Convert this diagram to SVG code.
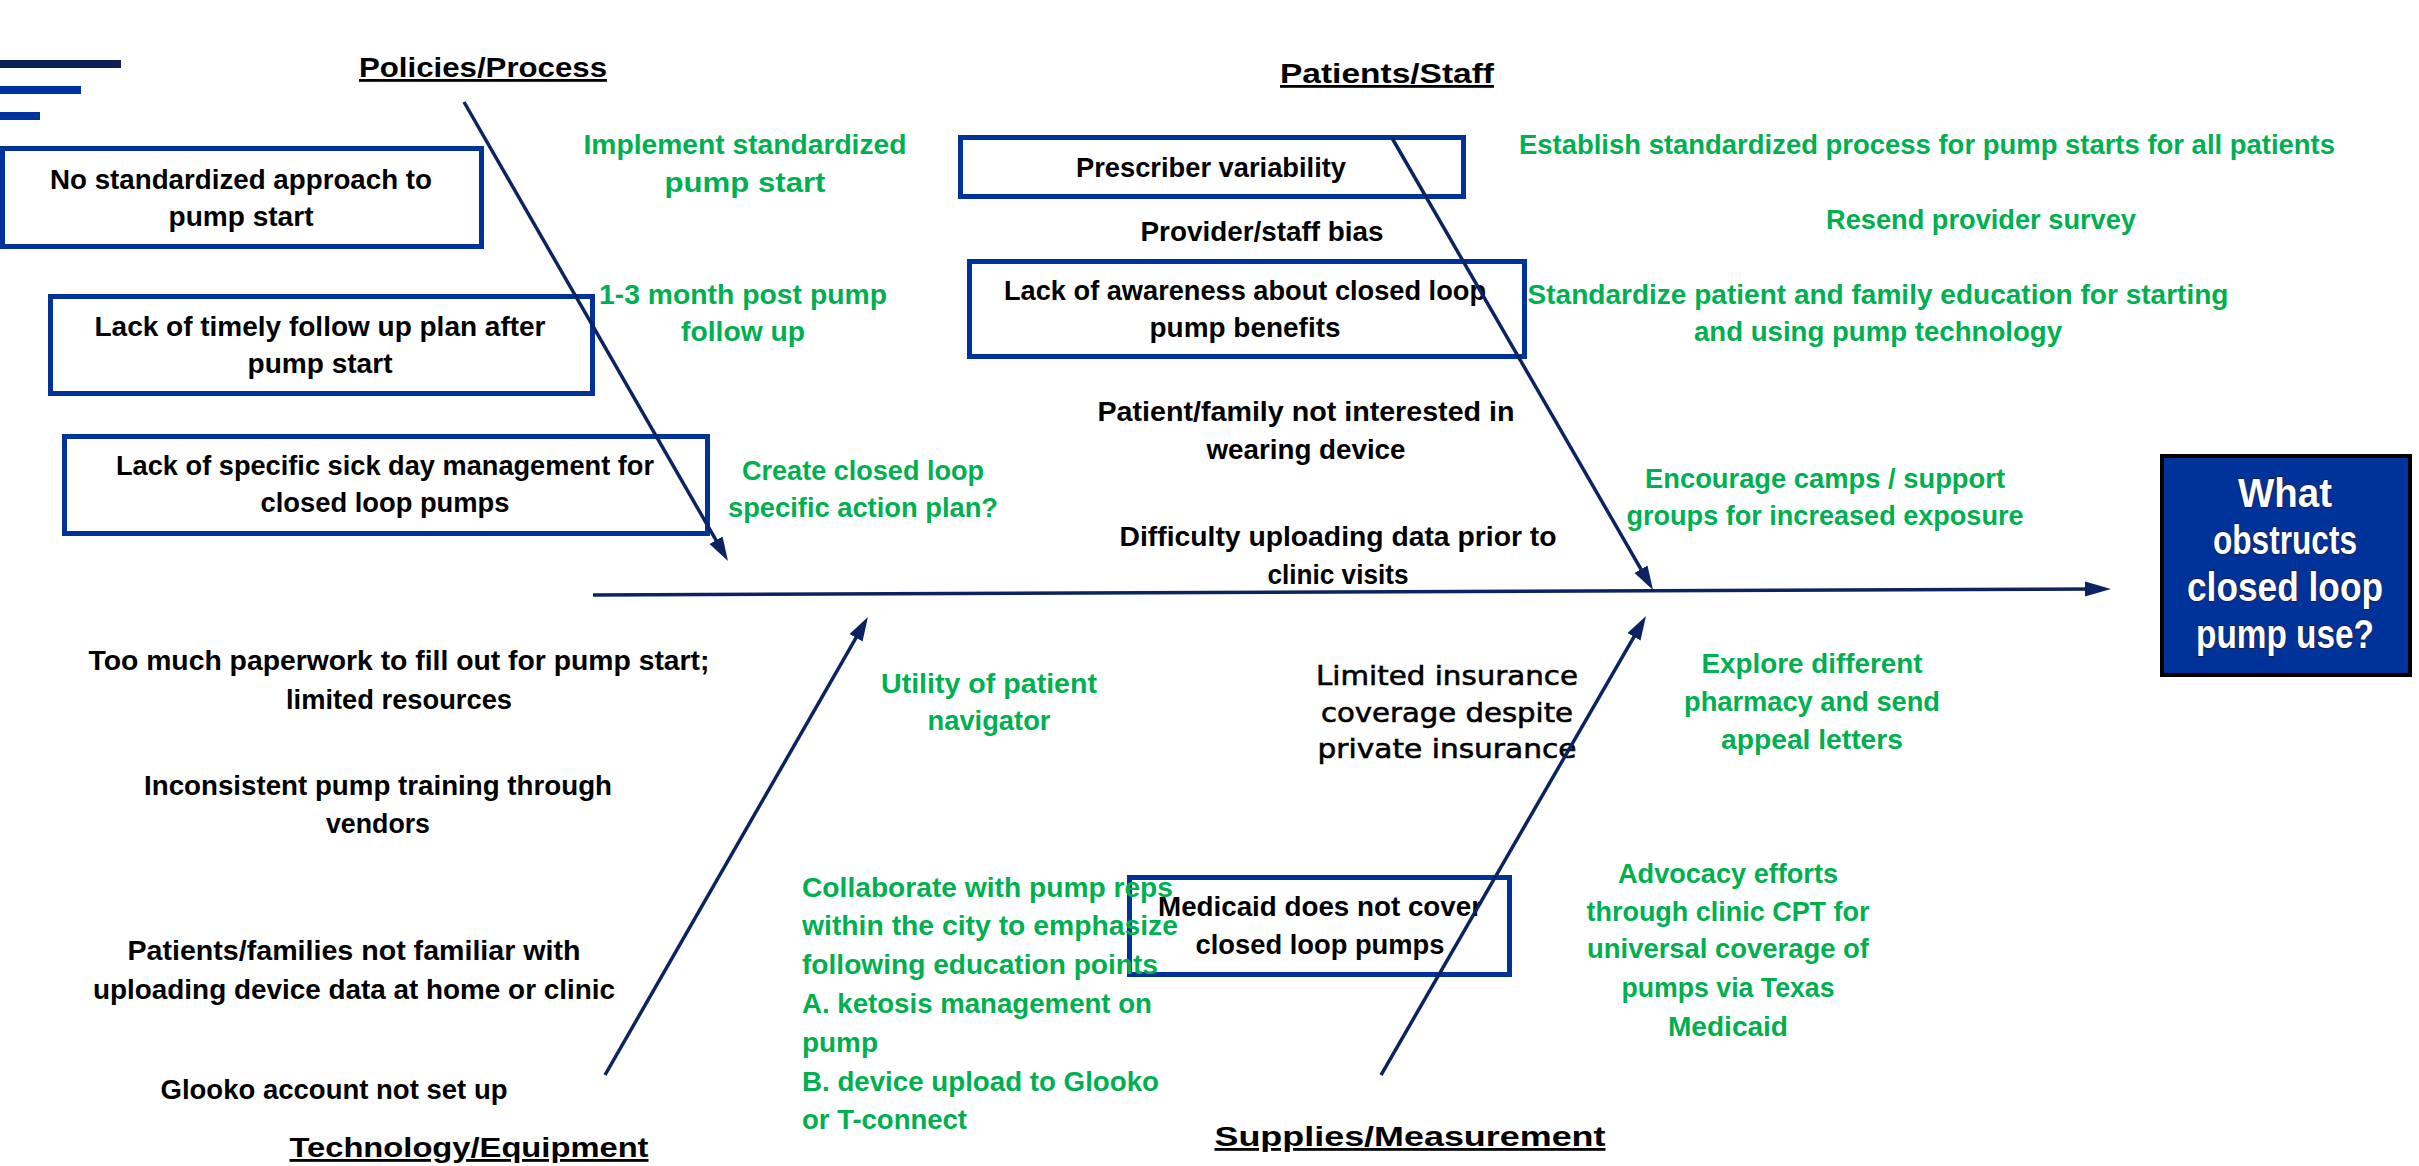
<svg xmlns="http://www.w3.org/2000/svg" width="2419" height="1166" viewBox="0 0 2419 1166">
<style>
text{font-family:"Liberation Sans",Arial,sans-serif;font-weight:bold;font-size:28px;text-anchor:middle;fill:#000}
.g{fill:#00b050}
.l{text-anchor:start}
.box{fill:none;stroke:#003399;stroke-width:5}
.hd{text-decoration:underline}
.ins{font-family:"DejaVu Sans",Verdana,sans-serif;font-weight:normal;font-size:27px;stroke:#000;stroke-width:0.6}
.w{fill:#fff;font-size:40px;stroke:#1a1a40;stroke-width:1.5;paint-order:stroke}
.ln{stroke:#0b2461;stroke-width:3.5;fill:none}
.deco1{stroke:#0d2157;stroke-width:8}
.deco2{stroke:#0033a0;stroke-width:8}
</style>
<defs>
<marker id="ah" markerUnits="userSpaceOnUse" markerWidth="26" markerHeight="16" refX="12" refY="8" orient="auto"><path d="M0,0.5 L24,8 L0,15.5 z" fill="#0b2461"/></marker>
<marker id="ahm" markerUnits="userSpaceOnUse" markerWidth="28" markerHeight="18" refX="14" refY="9" orient="auto"><path d="M0,1.5 L26,9 L0,16.5 z" fill="#0b2461"/></marker>
</defs>
<rect width="2419" height="1166" fill="#fff"/>
<g id="decoration">
<line class="deco1" x1="0" y1="64" x2="121" y2="64"/>
<line class="deco2" x1="0" y1="90" x2="81" y2="90"/>
<line class="deco2" x1="0" y1="116" x2="40" y2="116"/>
</g>
<g id="hdr-policies"><text class="hd" x="483" y="77" font-size="31" textLength="248" lengthAdjust="spacingAndGlyphs">Policies/Process</text></g>
<g id="hdr-patients"><text class="hd" x="1387" y="83" font-size="33" textLength="214" lengthAdjust="spacingAndGlyphs">Patients/Staff</text></g>
<g id="hdr-technology"><text class="hd" x="469" y="1157" font-size="32" textLength="359" lengthAdjust="spacingAndGlyphs">Technology/Equipment</text></g>
<g id="hdr-supplies"><text class="hd" x="1410" y="1146" font-size="35" textLength="391" lengthAdjust="spacingAndGlyphs">Supplies/Measurement</text></g>

<g id="n-no-standard"><rect class="box" x="2.5" y="148.5" width="479" height="98"/>
<text x="241" y="189" textLength="382" lengthAdjust="spacingAndGlyphs">No standardized approach to</text>
<text x="241" y="226" textLength="145" lengthAdjust="spacingAndGlyphs">pump start</text></g>
<g id="n-followup-plan"><rect class="box" x="50.5" y="296.5" width="542" height="97"/>
<text x="320" y="336" textLength="451" lengthAdjust="spacingAndGlyphs">Lack of timely follow up plan after</text>
<text x="320" y="373" textLength="145" lengthAdjust="spacingAndGlyphs">pump start</text></g>
<g id="n-sick-day"><rect class="box" x="64.5" y="436.5" width="643" height="97"/>
<text x="385" y="475" textLength="538" lengthAdjust="spacingAndGlyphs">Lack of specific sick day management for</text>
<text x="385" y="512" textLength="249" lengthAdjust="spacingAndGlyphs">closed loop pumps</text></g>
<g id="n-prescriber"><rect class="box" x="960.5" y="137.5" width="503" height="59"/>
<text x="1211" y="177" textLength="270" lengthAdjust="spacingAndGlyphs">Prescriber variability</text></g>
<g id="n-bias"><text x="1262" y="241" textLength="243" lengthAdjust="spacingAndGlyphs">Provider/staff bias</text></g>
<g id="n-awareness"><rect class="box" x="969.5" y="261.5" width="555" height="95"/>
<text x="1245" y="300" textLength="482" lengthAdjust="spacingAndGlyphs">Lack of awareness about closed loop</text>
<text x="1245" y="337" textLength="191" lengthAdjust="spacingAndGlyphs">pump benefits</text></g>
<g id="n-not-interested"><text x="1306" y="421" textLength="417" lengthAdjust="spacingAndGlyphs">Patient/family not interested in</text>
<text x="1306" y="459" textLength="199" lengthAdjust="spacingAndGlyphs">wearing device</text></g>
<g id="n-uploading"><text x="1338" y="546" textLength="437" lengthAdjust="spacingAndGlyphs">Difficulty uploading data prior to</text>
<text x="1338" y="584" textLength="141" lengthAdjust="spacingAndGlyphs">clinic visits</text></g>
<g id="n-paperwork"><text x="399" y="670" textLength="621" lengthAdjust="spacingAndGlyphs">Too much paperwork to fill out for pump start;</text>
<text x="399" y="709" textLength="226" lengthAdjust="spacingAndGlyphs">limited resources</text></g>
<g id="n-training"><text x="378" y="795" textLength="468" lengthAdjust="spacingAndGlyphs">Inconsistent pump training through</text>
<text x="378" y="833" textLength="104" lengthAdjust="spacingAndGlyphs">vendors</text></g>
<g id="n-not-familiar"><text x="354" y="960" textLength="453" lengthAdjust="spacingAndGlyphs">Patients/families not familiar with</text>
<text x="354" y="999" textLength="522" lengthAdjust="spacingAndGlyphs">uploading device data at home or clinic</text></g>
<g id="n-glooko"><text x="334" y="1099" textLength="347" lengthAdjust="spacingAndGlyphs">Glooko account not set up</text></g>
<g id="n-limited-insurance"><text class="ins" x="1447" y="685" textLength="262" lengthAdjust="spacingAndGlyphs">Limited insurance</text>
<text class="ins" x="1447" y="722" textLength="252" lengthAdjust="spacingAndGlyphs">coverage despite</text>
<text class="ins" x="1447" y="758" textLength="259" lengthAdjust="spacingAndGlyphs">private insurance</text></g>
<g id="n-medicaid"><rect class="box" x="1129.5" y="877.5" width="380" height="97"/>
<text x="1320" y="916" textLength="324" lengthAdjust="spacingAndGlyphs">Medicaid does not cover</text>
<text x="1320" y="954" textLength="249" lengthAdjust="spacingAndGlyphs">closed loop pumps</text></g>

<g id="s-implement"><text class="g" x="745" y="154" textLength="323" lengthAdjust="spacingAndGlyphs">Implement standardized</text>
<text class="g" x="745" y="192" textLength="161" lengthAdjust="spacingAndGlyphs">pump start</text></g>
<g id="s-post-pump"><text class="g" x="743" y="304" textLength="288" lengthAdjust="spacingAndGlyphs">1-3 month post pump</text>
<text class="g" x="743" y="341" textLength="124" lengthAdjust="spacingAndGlyphs">follow up</text></g>
<g id="s-action-plan"><text class="g" x="863" y="480" textLength="242" lengthAdjust="spacingAndGlyphs">Create closed loop</text>
<text class="g" x="863" y="517" textLength="270" lengthAdjust="spacingAndGlyphs">specific action plan?</text></g>
<g id="s-establish"><text class="g" x="1927" y="154" textLength="816" lengthAdjust="spacingAndGlyphs">Establish standardized process for pump starts for all patients</text></g>
<g id="s-survey"><text class="g" x="1981" y="229" textLength="310" lengthAdjust="spacingAndGlyphs">Resend provider survey</text></g>
<g id="s-education"><text class="g" x="1878" y="304" textLength="701" lengthAdjust="spacingAndGlyphs">Standardize patient and family education for starting</text>
<text class="g" x="1878" y="341" textLength="368" lengthAdjust="spacingAndGlyphs">and using pump technology</text></g>
<g id="s-camps"><text class="g" x="1825" y="488" textLength="360" lengthAdjust="spacingAndGlyphs">Encourage camps / support</text>
<text class="g" x="1825" y="525" textLength="397" lengthAdjust="spacingAndGlyphs">groups for increased exposure</text></g>
<g id="s-explore"><text class="g" x="1812" y="673" textLength="221" lengthAdjust="spacingAndGlyphs">Explore different</text>
<text class="g" x="1812" y="711" textLength="256" lengthAdjust="spacingAndGlyphs">pharmacy and send</text>
<text class="g" x="1812" y="749" textLength="182" lengthAdjust="spacingAndGlyphs">appeal letters</text></g>
<g id="s-advocacy"><text class="g" x="1728" y="883" textLength="220" lengthAdjust="spacingAndGlyphs">Advocacy efforts</text>
<text class="g" x="1728" y="921" textLength="283" lengthAdjust="spacingAndGlyphs">through clinic CPT for</text>
<text class="g" x="1728" y="958" textLength="282" lengthAdjust="spacingAndGlyphs">universal coverage of</text>
<text class="g" x="1728" y="997" textLength="213" lengthAdjust="spacingAndGlyphs">pumps via Texas</text>
<text class="g" x="1728" y="1036" textLength="120" lengthAdjust="spacingAndGlyphs">Medicaid</text></g>
<g id="s-navigator"><text class="g" x="989" y="693" textLength="216" lengthAdjust="spacingAndGlyphs">Utility of patient</text>
<text class="g" x="989" y="730" textLength="123" lengthAdjust="spacingAndGlyphs">navigator</text></g>
<g id="s-collaborate">
<text class="g l" x="802" y="897" textLength="371" lengthAdjust="spacingAndGlyphs">Collaborate with pump reps</text>
<text class="g l" x="802" y="935" textLength="376" lengthAdjust="spacingAndGlyphs">within the city to emphasize</text>
<text class="g l" x="802" y="974" textLength="356" lengthAdjust="spacingAndGlyphs">following education points</text>
<text class="g l" x="802" y="1013" textLength="350" lengthAdjust="spacingAndGlyphs">A. ketosis management on</text>
<text class="g l" x="802" y="1052" textLength="76" lengthAdjust="spacingAndGlyphs">pump</text>
<text class="g l" x="802" y="1091" textLength="357" lengthAdjust="spacingAndGlyphs">B. device upload to Glooko</text>
<text class="g l" x="802" y="1129" textLength="165" lengthAdjust="spacingAndGlyphs">or T-connect</text></g>

<g id="n-effect"><rect x="2162" y="456" width="248" height="219" fill="#003399" stroke="#000" stroke-width="4"/>
<text class="w" x="2285" y="507" textLength="94" lengthAdjust="spacingAndGlyphs">What</text>
<text class="w" x="2285" y="554" textLength="144" lengthAdjust="spacingAndGlyphs">obstructs</text>
<text class="w" x="2285" y="601" textLength="196" lengthAdjust="spacingAndGlyphs">closed loop</text>
<text class="w" x="2285" y="648" textLength="178" lengthAdjust="spacingAndGlyphs">pump use?</text></g>

<g id="connectors">
<line class="ln" x1="593" y1="595" x2="2099" y2="589" stroke-width="5" marker-end="url(#ahm)"/>
<line class="ln" x1="464" y1="102" x2="722" y2="550.6" marker-end="url(#ah)"/>
<line class="ln" x1="1392" y1="138" x2="1647" y2="579.6" marker-end="url(#ah)"/>
<line class="ln" x1="605" y1="1075" x2="862" y2="627.4" marker-end="url(#ah)"/>
<line class="ln" x1="1381" y1="1075" x2="1640" y2="626.4" marker-end="url(#ah)"/>
</g>
</svg>
